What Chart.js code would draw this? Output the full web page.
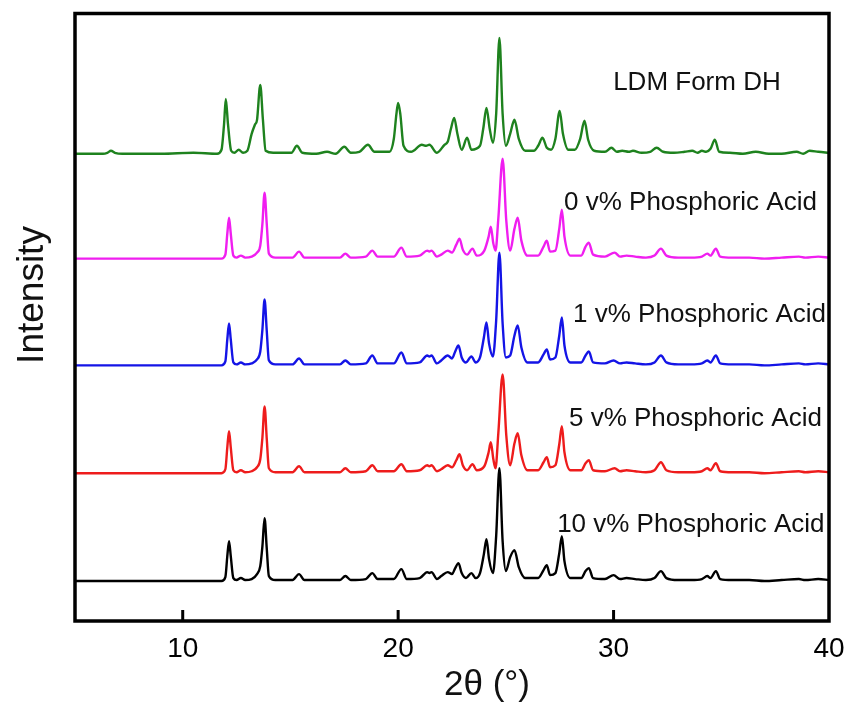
<!DOCTYPE html>
<html>

<head>
  <title>PXRD patterns</title>
  <script src="https://cdn.jsdelivr.net/npm/chart.js"></script>
  <style>
    body { margin: 0; background: #fff; }
  </style>
</head>

<body>
  <canvas id="xrdChart" width="851" height="706"></canvas>
  <script>
    // 2theta ticks on the bottom axis
    const tickValues = [10, 20, 30, 40];

    const seriesNames = ['LDM Form DH', '0 v% Phosphoric Acid', '1 v% Phosphoric Acid', '5 v% Phosphoric Acid', '10 v% Phosphoric Acid'];
    const seriesColors = ['#1e821e', '#f01ef0', '#1414e6', '#ee1c1c', '#000000'];
    // vertical offset of each pattern (stacked plot)
    const offsets = [468, 363, 256, 148, 40];

    // [2theta, intensity]
    const formDH = [[5,0],[6.3,0],[6.5,1],[6.67,3],[6.85,1],[7.2,0],[9,0],[10.5,1],[11.6,0],[11.8,4],[11.92,30],[12.0,55],[12.1,30],[12.25,3],[12.4,1],[12.6,4],[12.8,1],[13.0,3],[13.2,20],[13.35,29],[13.45,34],[13.6,69],[13.72,35],[13.85,3],[14.2,1],[15.05,1],[15.3,8],[15.55,1],[16.2,0],[16.7,2],[17.1,0],[17.5,7],[17.8,1],[18.2,2],[18.6,9],[18.9,2],[19.6,2],[19.8,15],[19.92,40],[20.0,51],[20.1,40],[20.25,8],[20.6,2],[21.1,9],[21.3,8],[21.45,9],[21.8,1],[22.15,9],[22.3,12],[22.45,25],[22.6,36],[22.75,20],[22.95,4],[23.2,16],[23.4,4],[23.8,8],[23.95,25],[24.1,46],[24.25,25],[24.4,11],[24.55,40],[24.7,116],[24.85,40],[25.0,8],[25.2,20],[25.4,34],[25.6,15],[25.9,3],[26.3,3],[26.5,8],[26.7,16],[26.9,6],[27.1,4],[27.3,15],[27.5,43],[27.65,20],[27.9,4],[28.2,4],[28.45,15],[28.65,33],[28.82,14],[29.1,3],[29.6,2],[29.9,6],[30.15,2],[30.4,3],[30.7,2],[30.9,3],[31.3,1],[31.7,2],[32.0,6],[32.3,2],[32.8,1],[33.3,2],[33.65,3],[33.9,1],[34.1,3],[34.3,2],[34.5,5],[34.7,14],[34.9,2],[35.4,1],[36,0],[36.6,2],[37.2,0],[37.8,0],[38.5,2],[38.8,0],[39.1,3],[39.5,2],[40,1]];

    const acid0 = [[5,0],[9,0],[11.8,0],[11.98,4],[12.07,25],[12.15,41],[12.23,25],[12.35,3],[12.5,1],[12.7,3],[12.9,1],[13.2,2],[13.45,6],[13.6,13],[13.7,35],[13.8,66],[13.9,35],[14.0,5],[14.3,1],[15.1,1],[15.4,7],[15.65,1],[16.5,1],[17.3,1],[17.55,5],[17.8,1],[18.5,2],[18.8,8],[19.05,2],[19.8,2],[20.15,11],[20.4,2],[21.0,3],[21.35,8],[21.45,7],[21.55,8],[21.8,2],[22.0,4],[22.3,8],[22.5,6],[22.7,14],[22.85,20],[23.0,9],[23.2,4],[23.45,10],[23.65,3],[24.0,8],[24.2,22],[24.3,32],[24.42,15],[24.52,8],[24.65,40],[24.85,100],[25.02,38],[25.2,8],[25.4,30],[25.55,41],[25.72,18],[26.0,3],[26.5,3],[26.75,12],[26.9,18],[27.05,7],[27.3,8],[27.48,30],[27.6,49],[27.72,22],[28.0,3],[28.5,3],[28.7,12],[28.85,16],[29.05,4],[29.6,2],[30.05,6],[30.3,2],[30.6,3],[31,2],[31.5,1],[31.9,3],[32.2,10],[32.45,3],[33,1],[33.6,1],[34.1,2],[34.35,5],[34.5,3],[34.75,10],[34.95,2],[35.5,1],[36.3,1],[37,0],[37.8,1],[38.6,2],[38.9,1],[39.5,2],[40,1]];

    const acid1 = [[5,0],[9,0],[11.8,0],[11.98,4],[12.07,26],[12.15,42],[12.23,26],[12.35,3],[12.5,1],[12.7,3],[12.9,1],[13.2,2],[13.45,6],[13.6,14],[13.7,36],[13.8,66],[13.9,35],[14.0,5],[14.3,1],[15.1,1],[15.4,7],[15.65,1],[16.5,1],[17.3,1],[17.55,5],[17.8,1],[18.5,2],[18.8,10],[19.05,2],[19.8,2],[20.15,13],[20.4,2],[21.0,3],[21.35,10],[21.45,9],[21.55,10],[21.8,2],[22.0,5],[22.3,10],[22.5,7],[22.65,14],[22.8,20],[22.95,8],[23.15,3],[23.4,9],[23.6,3],[23.8,8],[23.98,28],[24.1,43],[24.22,22],[24.4,9],[24.55,45],[24.7,113],[24.85,42],[25.0,8],[25.2,10],[25.4,30],[25.55,40],[25.72,18],[26.0,3],[26.5,3],[26.75,11],[26.9,16],[27.05,6],[27.3,8],[27.48,30],[27.6,48],[27.72,20],[28.0,3],[28.5,3],[28.7,10],[28.85,14],[29.05,3],[29.6,2],[30.0,5],[30.3,2],[30.6,3],[31,2],[31.5,1],[31.9,3],[32.2,10],[32.45,3],[33,1],[33.6,1],[34.1,2],[34.35,5],[34.5,3],[34.75,10],[34.95,2],[35.5,1],[36.3,1],[37,0],[37.8,1],[38.6,2],[38.9,1],[39.5,2],[40,1]];

    const acid5 = [[5,0],[9,0],[11.8,0],[11.98,4],[12.07,26],[12.15,42],[12.23,26],[12.35,3],[12.5,1],[12.7,3],[12.9,1],[13.2,2],[13.45,6],[13.6,14],[13.7,36],[13.8,67],[13.9,35],[14.0,5],[14.3,1],[15.1,1],[15.4,7],[15.65,1],[16.5,1],[17.3,1],[17.55,5],[17.8,1],[18.5,2],[18.8,8],[19.05,2],[19.8,2],[20.15,9],[20.4,2],[21.0,3],[21.35,8],[21.45,7],[21.55,8],[21.8,2],[22.0,4],[22.3,8],[22.5,6],[22.7,13],[22.85,19],[23.0,8],[23.2,3],[23.45,9],[23.65,3],[24.0,7],[24.2,21],[24.3,31],[24.42,14],[24.52,5],[24.65,40],[24.85,99],[25.02,38],[25.2,8],[25.4,30],[25.55,40],[25.72,18],[26.0,3],[26.5,3],[26.75,11],[26.9,16],[27.05,6],[27.3,8],[27.48,29],[27.6,47],[27.72,21],[28.0,3],[28.5,3],[28.7,10],[28.85,13],[29.05,3],[29.6,2],[30.05,5],[30.3,2],[30.6,3],[31,2],[31.5,1],[31.9,3],[32.2,11],[32.45,3],[33,1],[33.6,1],[34.1,2],[34.35,5],[34.5,3],[34.75,10],[34.95,2],[35.5,1],[36.3,1],[37,0],[37.8,1],[38.6,2],[38.9,1],[39.5,2],[40,1]];

    const acid10 = [[5,0],[9,0],[11.8,0],[11.98,4],[12.07,25],[12.15,40],[12.23,25],[12.35,3],[12.5,1],[12.7,3],[12.9,1],[13.2,2],[13.45,7],[13.6,15],[13.7,35],[13.8,63],[13.9,33],[14.0,5],[14.3,1],[15.1,1],[15.4,7],[15.65,1],[16.5,1],[17.3,1],[17.55,5],[17.8,1],[18.5,2],[18.8,8],[19.05,2],[19.8,2],[20.15,12],[20.4,2],[21.0,3],[21.35,9],[21.45,8],[21.55,9],[21.8,2],[22.0,5],[22.3,9],[22.5,7],[22.65,13],[22.8,18],[22.95,8],[23.15,3],[23.4,8],[23.6,3],[23.8,8],[23.98,27],[24.1,42],[24.22,22],[24.4,8],[24.55,45],[24.7,113],[24.85,40],[25.0,10],[25.2,24],[25.4,31],[25.6,14],[25.9,3],[26.5,3],[26.75,11],[26.9,16],[27.05,6],[27.3,8],[27.48,28],[27.6,45],[27.72,20],[28.0,3],[28.5,3],[28.7,10],[28.85,13],[29.05,3],[29.6,2],[30.0,6],[30.3,2],[30.6,3],[31,2],[31.5,1],[31.9,3],[32.2,10],[32.45,3],[33,1],[33.6,1],[34.1,2],[34.35,5],[34.5,3],[34.75,10],[34.95,2],[35.5,1],[36.3,1],[37,0],[37.8,1],[38.6,2],[38.9,1],[39.5,2],[40,1]];

    const patterns = [formDH, acid0, acid1, acid5, acid10];

    // where each pattern name sits (x in 2theta, y in plot units, text baseline)
    const labelAnchors = [[29.98, 532], [27.70, 412], [28.12, 299], [27.93, 195], [27.38, 89]];

    Chart.defaults.font.family = '"Liberation Sans", Arial, sans-serif';
    Chart.defaults.color = '#000';

    // frame, inward ticks, pattern names and axis titles
    const decorPlugin = {
      id: 'decor',
      afterDraw(chart) {
        const ctx = chart.ctx;
        const area = chart.chartArea;
        const xs = chart.scales.x;
        const ys = chart.scales.y;
        ctx.save();
        ctx.strokeStyle = '#000';
        ctx.lineWidth = 3.5;
        ctx.strokeRect(area.left, area.top, area.right - area.left, area.bottom - area.top);
        ctx.lineWidth = 3;
        tickValues.forEach(function (v) {
          const px = xs.getPixelForValue(v);
          if (v >= xs.max) return;
          ctx.beginPath();
          ctx.moveTo(px, area.bottom);
          ctx.lineTo(px, area.bottom - 11);
          ctx.stroke();
        });

        ctx.fillStyle = '#111';
        ctx.font = '26px "Liberation Sans", Arial, sans-serif';
        ctx.textAlign = 'left';
        ctx.textBaseline = 'alphabetic';
        seriesNames.forEach(function (name, i) {
          ctx.fillText(name, xs.getPixelForValue(labelAnchors[i][0]), ys.getPixelForValue(labelAnchors[i][1]));
        });

        // x title
        ctx.font = '35px "Liberation Sans", Arial, sans-serif';
        ctx.textAlign = 'center';
        ctx.fillText('2θ (°)', 487, 695);

        // y title
        ctx.translate(43, 295);
        ctx.rotate(-Math.PI / 2);
        ctx.font = '37px "Liberation Sans", Arial, sans-serif';
        ctx.fillText('Intensity', 0, 0);
        ctx.restore();
      }
    };

    new Chart(document.getElementById('xrdChart'), {
      type: 'line',
      data: {
        datasets: patterns.map(function (pts, i) {
          return {
            label: seriesNames[i],
            data: pts.map(function (p) { return { x: p[0], y: p[1] + offsets[i] }; }),
            borderColor: seriesColors[i],
            borderWidth: 2.4,
            pointRadius: 0,
            cubicInterpolationMode: 'monotone',
            fill: false
          };
        })
      },
      options: {
        responsive: false,
        animation: false,
        devicePixelRatio: 1,
        layout: { padding: { left: 75, right: 22, top: 13.5, bottom: 29 } },
        plugins: { legend: { display: false }, tooltip: { enabled: false } },
        scales: {
          x: {
            type: 'linear',
            min: 5,
            max: 40,
            afterBuildTicks: function (scale) {
              scale.ticks = tickValues.map(function (v) { return { value: v }; });
            },
            afterFit: function (scale) {
              scale.paddingLeft = 0;
              scale.paddingRight = 0;
            },
            grid: { display: false, drawTicks: false },
            border: { display: false },
            ticks: { font: { size: 28, lineHeight: 1 }, padding: 14, maxRotation: 0 }
          },
          y: {
            display: false,
            min: 0,
            max: 608.5
          }
        }
      },
      plugins: [decorPlugin]
    });
  </script>
</body>

</html>
